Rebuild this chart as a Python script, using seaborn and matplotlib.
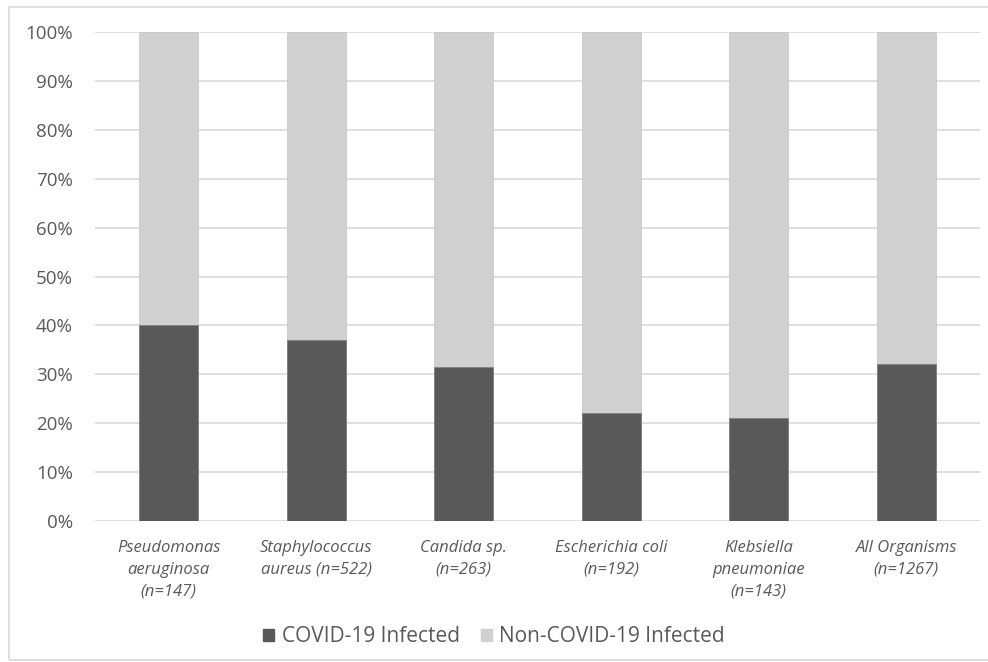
import pandas as pd
import matplotlib.pyplot as plt
import seaborn as sns
from matplotlib.patches import Patch, Rectangle

organisms = [
    "Pseudomonas\naeruginosa\n(n=147)",
    "Staphylococcus\naureus (n=522)",
    "Candida sp.\n(n=263)",
    "Escherichia coli\n(n=192)",
    "Klebsiella\npneumoniae\n(n=143)",
    "All Organisms\n(n=1267)",
]
covid_pct = [40.1, 37.0, 31.4, 22.0, 21.0, 32.2]
non_covid_pct = [100 - v for v in covid_pct]

df = pd.DataFrame({"organism": organisms, "covid": covid_pct, "non_covid": non_covid_pct})
df["total"] = df["covid"] + df["non_covid"]

sns.set_style("white")
plt.rcParams["font.family"] = ["Open Sans", "DejaVu Sans"]

dark = "#595959"
light = "#d0d0d0"
text_col = "#595959"

fig = plt.figure(figsize=(9.88, 6.62), dpi=100)
ax = fig.add_axes([95 / 988, 1 - 521 / 662, 885 / 988, 489 / 662])

# stacked: full bar in light grey, covid part in dark on top
sns.barplot(data=df, x="organism", y="total", color=light, width=0.4,
            saturation=1, ax=ax, zorder=2, edgecolor="#c8c8c8", linewidth=0.6)
sns.barplot(data=df, x="organism", y="covid", color=dark, width=0.4,
            saturation=1, ax=ax, zorder=3, edgecolor="#808080", linewidth=0.6)

ax.set_ylim(0, 100)
ax.set_yticks(range(0, 101, 10))
ax.set_yticklabels([f"{v}%" for v in range(0, 101, 10)], fontsize=13.5, color=text_col)
ax.set_xticks(range(len(organisms)))
ax.set_xticklabels(organisms, fontsize=12, color=text_col, style="italic",
                   linespacing=1.45)
ax.set_xlim(-0.5, len(organisms) - 0.5)
ax.set_xlabel("")
ax.set_ylabel("")
ax.grid(axis="y", color="#d9d9d9", linewidth=1.2, zorder=0)
ax.set_axisbelow(True)
for s in ax.spines.values():
    s.set_visible(False)
ax.tick_params(axis="both", length=0)
ax.tick_params(axis="y", pad=16)
ax.tick_params(axis="x", pad=14)

handles = [Patch(color=dark, label="COVID-19 Infected"),
           Patch(color=light, label="Non-COVID-19 Infected")]
fig.legend(handles=handles, loc="center", bbox_to_anchor=(0.5, 1 - 637 / 662),
           ncol=2, frameon=False, fontsize=15, labelcolor=text_col,
           handlelength=0.55, handleheight=0.55, columnspacing=1.0, handletextpad=0.35)

# light frame around the chart area
fig.patches.append(Rectangle((9 / 988, 2 / 662), 1.0, 1 - 9 / 662, transform=fig.transFigure,
                             fill=False, edgecolor="#d9d9d9", linewidth=1.2))

fig.savefig("out.png", dpi=100)
